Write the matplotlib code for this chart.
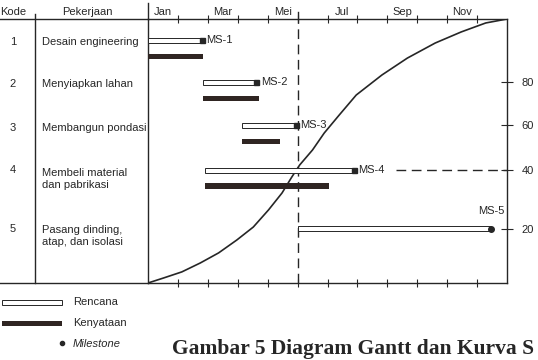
import matplotlib
matplotlib.use("Agg")
import matplotlib.pyplot as plt
from matplotlib.lines import Line2D
from matplotlib.patches import Rectangle
from matplotlib.transforms import blended_transform_factory

W, H = 538, 360
INK = "#262626"
DARK_BAR = "#2f2522"

# data (x in months from 1 Jan, y in % progress)
KODE = ["1", "2", "3", "4", "5"]
PEKERJAAN = [
    "Desain engineering",
    "Menyiapkan lahan",
    "Membangun pondasi",
    "Membeli material\ndan pabrikasi",
    "Pasang dinding,\natap, dan isolasi",
]
RENCANA_MULAI = [0.0, 1.85, 3.13, 1.9, 5.0]
RENCANA_SELESAI = [1.85, 3.68, 5.0, 6.93, 11.46]
KENYATAAN_MULAI = [0.0, 1.85, 3.13, 1.9]
KENYATAAN_SELESAI = [1.85, 3.7, 4.4, 6.04]
MILESTONE = ["MS-1", "MS-2", "MS-3", "MS-4", "MS-5"]
BULAN = ["Jan", "Mar", "Mei", "Jul", "Sep", "Nov"]
BULAN_POS = [0.5, 2.5, 4.5, 6.5, 8.5, 10.5]
STATUS_BULAN = 5.0
KURVA_BULAN = [0.0, 0.52, 1.13, 1.75, 2.36, 2.97, 3.52, 4.03, 4.48, 4.81, 5.07,
               5.5, 5.89, 6.39, 6.96, 7.82, 8.67, 9.6, 10.47, 11.29, 12.0]
KURVA_PERSEN = [0.0, 1.9, 4.2, 7.6, 11.4, 16.3, 21.2, 27.7, 34.1, 40.2, 44.7,
                50.4, 56.8, 63.6, 71.2, 78.8, 85.2, 90.9, 95.1, 98.5, 100.0]
PERSEN_LABEL = ["20", "40", "60", "80"]

# layout: row heights in axis units (0..100)
ROW_Y = [92.0, 76.1, 59.8, 42.8, 20.5]
ACTUAL_OFFSET = -6.2
TEXT_Y = [91.3, 75.4, 58.7, 39.4, 17.8]
BAR_H = 1.9


def fx(px):
    return px / W


def fy(py):
    return 1 - py / H


plt.rcParams.update({
    "font.family": ["Liberation Sans", "DejaVu Sans"],
    "font.size": 8,
    "text.color": INK,
})

fig = plt.figure(figsize=(W / 100, H / 100), dpi=100)
ax = fig.add_axes([fx(148), fy(283), (507 - 148) / W, (283 - 19) / H])
ax.set_xlim(0, 12)
ax.set_ylim(0, 100)
for sp in ax.spines.values():
    sp.set_color(INK)
    sp.set_linewidth(1.0)

# month ticks
ax.set_xticks(range(1, 12))
ax.set_xticks(BULAN_POS, BULAN, minor=True)
ax.tick_params(axis="x", which="major", top=True, bottom=True, direction="inout",
               length=6, width=0.8, color=INK, labeltop=False, labelbottom=False)
ax.tick_params(axis="x", which="minor", top=True, bottom=False, length=0,
               labeltop=True, labelbottom=False, pad=1.5, labelsize=8, labelcolor=INK)

# right percentage ticks aligned with rows
ax.yaxis.tick_right()
ax.set_yticks([ROW_Y[4], ROW_Y[3], ROW_Y[2], ROW_Y[1]], PERSEN_LABEL)
ax.tick_params(axis="y", direction="inout", length=9, width=0.8, color=INK,
               pad=6, labelsize=8, labelcolor=INK)

# planned bars
ax.barh(ROW_Y, [e - s for s, e in zip(RENCANA_MULAI, RENCANA_SELESAI)], left=RENCANA_MULAI,
        height=BAR_H, color="white", edgecolor=INK, linewidth=0.7, zorder=3)
# actual bars
ax.barh([y + ACTUAL_OFFSET for y in ROW_Y[:4]],
        [e - s for s, e in zip(KENYATAAN_MULAI, KENYATAAN_SELESAI)], left=KENYATAAN_MULAI,
        height=BAR_H + 0.3, color=DARK_BAR, edgecolor="none", zorder=3)

# milestones
for i, (end, label) in enumerate(zip(RENCANA_SELESAI, MILESTONE)):
    if i < 4:
        ax.plot(end - 0.06, ROW_Y[i], marker="s", ms=3.6, color=INK, zorder=4)
        ax.text(end + 0.1, ROW_Y[i], label, ha="left", va="center", fontsize=8, zorder=5)
    else:
        ax.plot(end, ROW_Y[i], marker="o", ms=4, color=INK, zorder=4)
        ax.annotate(label, (end, ROW_Y[i]), xytext=(0, 9), textcoords="offset points",
                    ha="center", va="bottom", fontsize=8)

# MS-4 reference to 40 %
ax.plot([8.3, 12], [ROW_Y[3], ROW_Y[3]], color=INK, lw=1.0, dashes=(7, 4))

# status date line
ax.axvline(STATUS_BULAN, color=INK, lw=1.0, dashes=(7, 4), zorder=2)
ax.plot([STATUS_BULAN, STATUS_BULAN], [100, 102.8], color=INK, lw=1.0, clip_on=False)

# S curve
ax.plot(KURVA_BULAN, KURVA_PERSEN, color=INK, lw=1.2, zorder=2)


# left table
def fline(x0, y0, x1, y1, lw=1.0):
    fig.add_artist(Line2D([fx(x0), fx(x1)], [fy(y0), fy(y1)], color=INK, lw=lw,
                          transform=fig.transFigure))


fline(0, 19, 148, 19)
fline(0, 283, 148, 283)
fline(35, 14, 35, 283)
fline(148, 3, 148, 19)

fig.text(fx(13), fy(12), "Kode", ha="center", va="center", fontsize=8)
fig.text(fx(87), fy(12), "Pekerjaan", ha="center", va="center", fontsize=8)

trans = blended_transform_factory(fig.transFigure, ax.transData)
for i, (kode, nama) in enumerate(zip(KODE, PEKERJAAN)):
    ky = ROW_Y[i] if "\n" in nama else TEXT_Y[i]
    ax.text(fx(13), ky, kode, transform=trans, ha="center", va="center", fontsize=8)
    ax.text(fx(42), TEXT_Y[i], nama, transform=trans, ha="left", va="center",
            fontsize=8, linespacing=1.3)

# legend
fig.add_artist(Rectangle((fx(2), fy(305)), 60 / W, 5 / H, facecolor="white",
                         edgecolor=INK, lw=0.7, transform=fig.transFigure))
fig.add_artist(Rectangle((fx(2), fy(326)), 60 / W, 5 / H, facecolor=DARK_BAR,
                         edgecolor="none", transform=fig.transFigure))
fig.add_artist(Line2D([fx(62)], [fy(343)], marker="o", ms=3, color=INK,
                      transform=fig.transFigure))
fig.text(fx(73), fy(302), "Rencana", ha="left", va="center", fontsize=8)
fig.text(fx(73), fy(323), "Kenyataan", ha="left", va="center", fontsize=8)
fig.text(fx(73), fy(344), "Milestone", ha="left", va="center", fontsize=8, style="italic")

# caption
fig.text(fx(172), fy(359), "Gambar 5 Diagram Gantt dan Kurva S", ha="left", va="bottom",
         fontsize=15.5, fontweight="bold", family=["Liberation Serif", "DejaVu Serif"])

fig.savefig("out.png", dpi=100, facecolor="white")
